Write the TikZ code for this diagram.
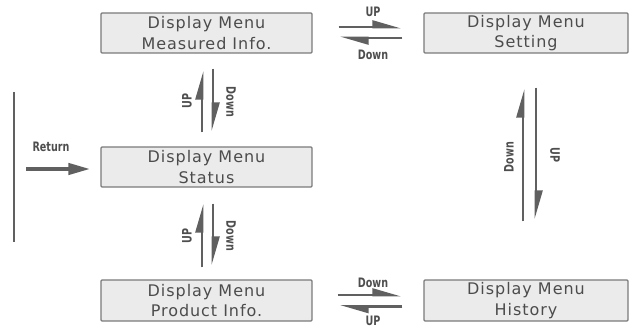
\documentclass[tikz,border=0pt]{standalone}
\usepackage{fontspec}
\newfontfamily\boxfont{DejaVu Sans}[LetterSpace=6]
\newfontfamily\lblfont{DejaVu Sans Condensed}
\usetikzlibrary{arrows.meta,calc}
\definecolor{arrgray}{HTML}{606060}
\definecolor{boxline}{HTML}{7A7A7A}
\definecolor{boxfill}{HTML}{EBEBEB}
\definecolor{boxtext}{HTML}{4C4C4C}
\definecolor{lbltext}{HTML}{4E4E4E}
\newcommand\lb[1]{\scalebox{0.82}[1]{#1}}
\begin{document}
\begin{tikzpicture}[x=1pt,y=-1pt,
  menubox/.style={draw=boxline, fill=boxfill, line width=1.1pt, rounded corners=1pt,
    minimum width=211pt, minimum height=40pt, inner sep=0pt, align=center,
    font=\boxfont\fontsize{16}{20.7}\selectfont, text=boxtext},
  harp/.style={draw=arrgray, line width=2.8pt, -{Triangle[harpoon, length=24pt, width=13pt]}},
  lbl/.style={font=\lblfont\bfseries\fontsize{13}{14}\selectfont, text=lbltext, inner sep=0pt},
]
\useasboundingbox (0,0) rectangle (630,328);

% boxes
\node[menubox] (meas) at (206.5,33) {Display Menu\\Measured Info.};
\node[menubox, minimum width=204pt] (sett) at (526,33) {Display Menu\\Setting};
\node[menubox] (stat) at (206.5,167) {Display Menu\\Status};
\node[menubox, minimum height=41pt] (prod) at (206.5,300.5) {Display Menu\\Product Info.};
\node[menubox, minimum width=204pt, minimum height=41pt] (hist) at (526,300.5) {Display Menu\\History};

% top horizontal pair
\draw[harp] ($(meas.east)+(26,-6)$) -- ($(sett.west)+(-22,-6)$);
\draw[harp] ($(sett.west)+(-21,5)$) -- ($(meas.east)+(27,5)$);
\node[lbl] (lupT) at (373,12) {\lb{UP}};
\node[lbl] (ldnT) at (373,55) {\lb{Down}};

% bottom horizontal pair
\draw[harp] ($(prod.east)+(25,-5.5)$) -- ($(hist.west)+(-22,-5.5)$);
\draw[harp] ($(hist.west)+(-21,6)$) -- ($(prod.east)+(27,6)$);
\node[lbl] (ldnB) at (373,283) {\lb{Down}};
\node[lbl] (lupB) at (373,321) {\lb{UP}};

% vertical pair measured <-> status
\draw[harp] ($(stat.north)+(-4.5,-14)$) -- ($(meas.south)+(-4.5,17)$);
\draw[harp] ($(meas.south)+(6.5,15)$) -- ($(stat.north)+(6.5,-15)$);
\node[lbl, rotate=90] (lup1) at (187,101) {\lb{UP}};
\node[lbl, rotate=-90] (ldn1) at (231,102) {\lb{Down}};

% vertical pair status <-> product
\draw[harp] ($(prod.north)+(-4.5,-12)$) -- ($(stat.south)+(-4.5,16)$);
\draw[harp] ($(stat.south)+(6.5,16)$) -- ($(prod.north)+(6.5,-14)$);
\node[lbl, rotate=90] (lup2) at (187,236) {\lb{UP}};
\node[lbl, rotate=-90] (ldn2) at (231,236) {\lb{Down}};

% right vertical pair setting <-> history
\draw[harp] ($(hist.north)+(-3,-58)$) -- ($(sett.south)+(-3,35)$);
\draw[harp] ($(sett.south)+(10,34)$) -- ($(hist.north)+(10,-60)$);
\node[lbl, rotate=90] (ldn3) at (509,157) {\lb{Down}};
\node[lbl, rotate=-90] (lup3) at (555,155) {\lb{UP}};

% return
\coordinate (rtop) at (14,92);
\coordinate (rbot) at (14,242);
\coordinate (rstart) at (26,169);
\draw[draw=arrgray, line width=2.8pt] (rtop) -- (rbot);
\draw[draw=arrgray, line width=4pt, -{Triangle[length=22pt, width=11pt]}] (rstart) -- ($(stat.west)+(-10,2)$);
\node[lbl] (lret) at (51,147) {\lb{Return}};
\end{tikzpicture}
\end{document}
